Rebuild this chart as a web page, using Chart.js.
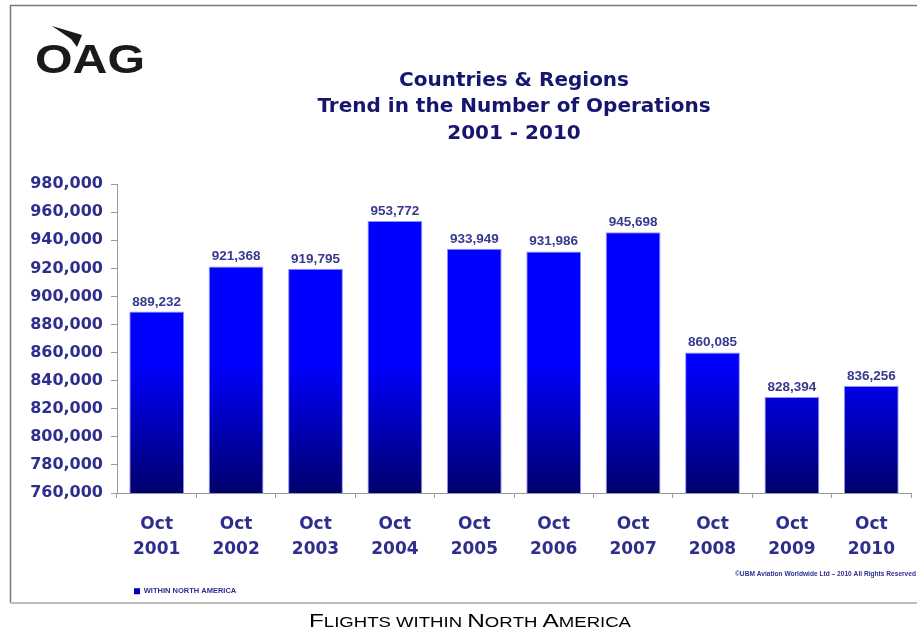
<!DOCTYPE html>
<html>
<head>
<meta charset="utf-8">
<script src="https://cdn.jsdelivr.net/npm/chart.js@4.4.1/dist/chart.umd.min.js"></script>
<style>
  html, body { margin: 0; padding: 0; background: #ffffff; }
  #wrap { position: relative; width: 917px; height: 629px; }
</style>
</head>
<body>
<div id="wrap"><canvas id="c" width="917" height="629"></canvas></div>
<script>
// ---- data ----
const months = ['Oct', 'Oct', 'Oct', 'Oct', 'Oct', 'Oct', 'Oct', 'Oct', 'Oct', 'Oct'];
const years = ['2001', '2002', '2003', '2004', '2005', '2006', '2007', '2008', '2009', '2010'];
const operations = [889232, 921368, 919795, 953772, 933949, 931986, 945698, 860085, 828394, 836256];
const seriesName = 'WITHIN NORTH AMERICA';
const titleLines = ['Countries & Regions', 'Trend in the Number of Operations', '2001 - 2010'];
const yMin = 760000, yMax = 980000, yStep = 20000;
const copyrightText = '\u00A9UBM Aviation Worldwide Ltd \u2013 2010 All Rights Reserved';
const captionText = 'Flights within North America';

const labels = years.map((y, i) => [months[i], y]);

const NAVY_TEXT = '#2e2e8e';
const fmt = v => Number(v).toLocaleString('en-US');

let gradCache = null;
function barGradient(ctx) {
  const chart = ctx.chart;
  const area = chart.chartArea;
  if (!area) return '#0000ff';
  const key = area.top + ':' + area.bottom;
  if (gradCache && gradCache.key === key) return gradCache.g;
  const g = chart.ctx.createLinearGradient(0, area.top, 0, area.bottom);
  g.addColorStop(0, '#0000ff');
  g.addColorStop(0.58, '#0000ff');
  g.addColorStop(1, '#00006c');
  gradCache = { key, g };
  return g;
}

const decor = {
  id: 'decor',
  beforeDraw(chart) {
    const c = chart.ctx;
    c.save();
    c.fillStyle = '#ffffff';
    c.fillRect(0, 0, chart.width, chart.height);
    // frame
    c.strokeStyle = '#7a7a7a';
    c.lineWidth = 1.5;
    c.beginPath();
    c.moveTo(10.5, 603);
    c.lineTo(10.5, 5.5);
    c.lineTo(917, 5.5);
    c.stroke();
    c.strokeStyle = '#bdbdbd';
    c.lineWidth = 2;
    c.beginPath();
    c.moveTo(10, 603);
    c.lineTo(917, 603);
    c.stroke();
    // logo
    c.fillStyle = '#1a1a1a';
    c.font = 'bold 41px "Liberation Sans", Arial, sans-serif';
    c.textBaseline = 'alphabetic';
    c.textAlign = 'left';
    const w = c.measureText('OAG').width;
    c.translate(35, 73);
    c.scale(110 / w, 1);
    c.fillText('OAG', 0, 0);
    c.restore();
    c.save();
    c.fillStyle = '#1a1a1a';
    c.beginPath();
    c.moveTo(52, 26);
    c.lineTo(82, 35);
    c.lineTo(77, 47);
    c.lineTo(71, 39);
    c.closePath();
    c.fill();
    c.restore();
  },
  afterDraw(chart) {
    const c = chart.ctx;
    c.save();
    // copyright
    c.fillStyle = '#2e2e8e';
    c.font = 'bold 6.5px "Liberation Sans", Arial, sans-serif';
    c.textBaseline = 'alphabetic';
    c.textAlign = 'left';
    const cw = c.measureText(copyrightText).width;
    c.translate(735, 576);
    c.scale(181 / cw, 1);
    c.fillText(copyrightText, 0, 0);
    c.restore();
    // caption in small caps
    c.save();
    c.fillStyle = '#000000';
    c.textBaseline = 'alphabetic';
    const bigFont = '19px "Liberation Sans", Arial, sans-serif';
    const smallFont = '14.5px "Liberation Sans", Arial, sans-serif';
    const parts = [];
    for (const ch of captionText) {
      const isUpper = ch === ch.toUpperCase() && ch !== ' ';
      parts.push({ t: ch.toUpperCase(), f: isUpper ? bigFont : smallFont });
    }
    let total = 0;
    parts.forEach(p => { c.font = p.f; p.w = c.measureText(p.t).width; total += p.w; });
    const sx = 322 / total;
    c.translate(309, 627);
    c.scale(sx, 1);
    let x = 0;
    parts.forEach(p => { c.font = p.f; c.fillText(p.t, x, 0); x += p.w; });
    c.restore();
  }
};

const valueLabels = {
  id: 'valueLabels',
  afterDatasetsDraw(chart) {
    const c = chart.ctx;
    const meta = chart.getDatasetMeta(0);
    c.save();
    c.fillStyle = '#38388f';
    c.font = 'bold 13.5px "Liberation Sans", Arial, sans-serif';
    c.textAlign = 'center';
    c.textBaseline = 'bottom';
    meta.data.forEach((el, i) => {
      c.fillText(fmt(chart.data.datasets[0].data[i]), el.x, el.y - 3);
    });
    c.restore();
  }
};

new Chart(document.getElementById('c'), {
  type: 'bar',
  data: {
    labels: labels,
    datasets: [{
      label: seriesName,
      data: operations,
      backgroundColor: barGradient,
      borderColor: '#8f8fff',
      borderWidth: 1,
      barPercentage: 0.69,
      categoryPercentage: 1.0
    }]
  },
  options: {
    responsive: false,
    animation: false,
    devicePixelRatio: 1,
    layout: { padding: { left: 0, right: 6, top: 0, bottom: 24 } },
    plugins: {
      title: {
        display: true,
        fullSize: false,
        text: titleLines,
        color: '#16166e',
        font: { family: '"DejaVu Sans", Verdana, sans-serif', size: 20, weight: 'bold', lineHeight: 1.335 },
        padding: { top: 67, bottom: 37 }
      },
      legend: {
        display: true,
        fullSize: false,
        position: 'bottom',
        align: 'start',
        labels: {
          boxWidth: 6,
          boxHeight: 6,
          padding: 17,
          color: '#2e2e8e',
          font: { family: '"Liberation Sans", Arial, sans-serif', size: 7.5, weight: 'bold' },
          generateLabels: (chart) => Chart.defaults.plugins.legend.labels.generateLabels(chart)
            .map(l => Object.assign(l, { fillStyle: '#0000b4', strokeStyle: '#0000b4', lineWidth: 0 }))
        }
      },
      tooltip: { enabled: false }
    },
    scales: {
      x: {
        offset: true,
        grid: { display: true, drawOnChartArea: false, drawTicks: true, tickLength: 5, color: '#9a9a9a', offset: true },
        border: { display: true, color: '#9a9a9a', width: 1 },
        ticks: {
          color: NAVY_TEXT,
          padding: 14,
          maxRotation: 0,
          autoSkip: false,
          font: { family: '"DejaVu Sans", Verdana, sans-serif', size: 17, weight: 'bold', lineHeight: 1.47 }
        },
        afterFit(scale) { scale.height = 77.5; }
      },
      y: {
        min: yMin,
        max: yMax,
        grid: { display: true, drawOnChartArea: false, drawTicks: true, tickLength: 6, color: '#9a9a9a' },
        border: { display: true, color: '#9a9a9a', width: 1 },
        ticks: {
          stepSize: yStep,
          color: NAVY_TEXT,
          padding: 8,
          font: { family: '"DejaVu Sans", Verdana, sans-serif', size: 16, weight: 'bold' },
          callback: (v) => fmt(v)
        },
        afterFit(scale) { scale.width = 117; }
      }
    }
  },
  plugins: [decor, valueLabels]
});
</script>
</body>
</html>
